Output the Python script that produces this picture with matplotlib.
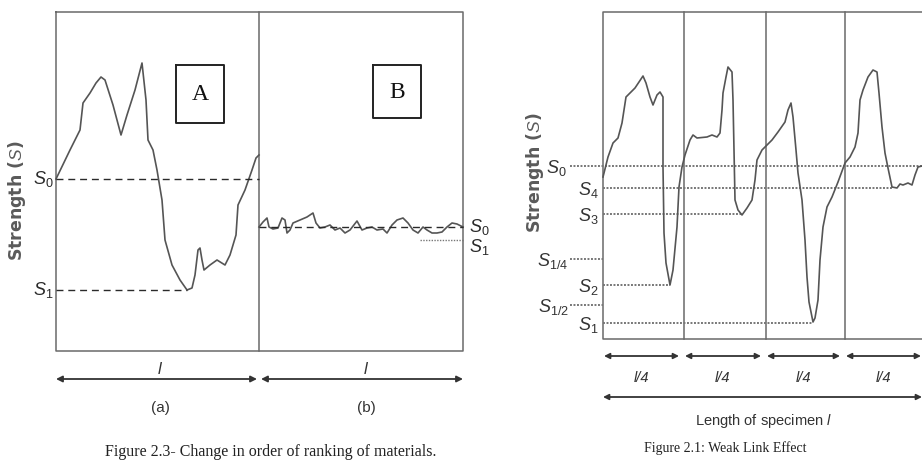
import matplotlib
matplotlib.use("Agg")
import matplotlib.pyplot as plt

plt.rcParams['mathtext.fontset'] = 'custom'
plt.rcParams['mathtext.rm'] = 'Liberation Sans'
plt.rcParams['mathtext.it'] = 'Liberation Sans:italic'
plt.rcParams['mathtext.bf'] = 'Liberation Sans:bold'

# ---------------- data (figure 2.3) ----------------
curve_a_x = [56, 70, 80, 83, 90, 96, 101, 105, 113, 121, 127, 135, 142, 146, 148, 153, 157,
             162, 165, 172, 180, 187, 192, 195, 198, 200, 202, 204, 210, 217, 225, 230, 236,
             238, 245, 252, 256, 259]
curve_a_s = [179, 150, 130, 103, 93, 83, 77, 80, 105, 135, 115, 90, 63, 100, 140, 150, 170,
             200, 240, 265, 280, 290, 288, 275, 250, 248, 260, 270, 265, 260, 265, 255, 235,
             205, 190, 170, 158, 155]
curve_b_x = [259, 263, 267, 269, 273, 278, 282, 285, 287, 290, 293, 300, 307, 313, 316, 320,
             325, 330, 335, 340, 345, 350, 357, 362, 367, 372, 377, 383, 387, 392, 397, 403,
             408, 413, 418, 423, 427, 432, 437, 442, 447, 452, 457, 463]
curve_b_s = [227, 222, 218, 227, 229, 228, 218, 220, 233, 230, 223, 220, 217, 213, 223, 228,
             227, 225, 230, 228, 233, 230, 221, 230, 228, 227, 230, 229, 233, 225, 220, 218,
             223, 230, 233, 227, 230, 233, 233, 232, 227, 223, 224, 227]
a_levels = {"S0": 179, "S1": 290}
b_levels = {"S0": 227, "S1": 240}

# ---------------- data (figure 2.1) ----------------
weak_x = [603, 608, 613, 618, 622, 626, 630, 635, 639, 643, 646, 650, 653, 657, 660, 663, 663,
          664, 666, 670, 673, 677, 679, 682, 685, 690, 693, 697, 707, 712, 717, 720, 722, 723,
          726, 728, 732, 733, 734, 735, 738, 742, 747, 752, 755, 757, 762, 767, 772, 778, 785,
          788, 791, 793, 796, 798, 802, 805, 807, 809, 813, 815, 818, 820, 823, 827, 832, 838,
          845, 850, 855, 858, 860, 863, 868, 873, 877, 879, 882, 885, 888, 892, 897, 900, 903,
          908, 912, 915, 918, 922]
weak_s = [177, 157, 143, 138, 123, 97, 93, 88, 82, 76, 83, 97, 105, 95, 92, 97, 167,
          233, 263, 285, 270, 227, 187, 167, 155, 140, 135, 138, 137, 135, 137, 133, 110, 93,
          77, 67, 72, 100, 150, 200, 210, 215, 208, 200, 180, 160, 150, 145, 140, 132, 122,
          110, 103, 117, 150, 173, 200, 240, 277, 302, 322, 318, 300, 260, 227, 207, 197, 182,
          163, 157, 147, 133, 100, 90, 77, 70, 72, 93, 127, 153, 168, 187, 188, 184, 185,
          183, 185, 175, 167, 166]
weak_levels = ["S0", "S4", "S3", "S1/4", "S2", "S1/2", "S1"]
weak_level_s = [166, 188, 214, 259, 285, 305, 323]
weak_level_end = [922, 893, 742, 603, 670, 603, 813]
weak_level_start = [570, 603, 603, 570, 603, 570, 603]
weak_label_x = [556, 588, 588, 553, 588, 553, 588]
weak_labels = [r"$\mathit{S}_0$", r"$\mathit{S}_4$", r"$\mathit{S}_3$", r"$\mathit{S}_{1/4}$",
               r"$\mathit{S}_2$", r"$\mathit{S}_{1/2}$", r"$\mathit{S}_1$"]
quarter_bounds = [603, 684, 766, 845, 926]

LINE = '#555555'
DARK = '#2a2a2a'

fig = plt.figure(figsize=(9.22, 4.66), dpi=100)
ax = fig.add_axes([0, 0, 1, 1])
ax.set_xlim(0, 922)
ax.set_ylim(466, 0)
ax.axis('off')

# ---------- Figure 2.3 ----------
ax.plot([56, 463, 463, 56, 56], [12, 12, 351, 351, 12], color='#6a6a6a', lw=1.1)
ax.plot([259, 259], [12, 351], color='#6a6a6a', lw=1.1)
ax.plot(curve_a_x, curve_a_s, color=LINE, lw=1.2)
ax.plot(curve_b_x, curve_b_s, color=LINE, lw=1.2)
ax.plot([56, 259], [a_levels["S0"]] * 2, color=DARK, lw=1.0, dashes=(5, 3.5))
ax.plot([56, 187], [a_levels["S1"]] * 2, color=DARK, lw=1.0, dashes=(5, 3.5))
ax.plot([259, 463], [b_levels["S0"]] * 2, color=DARK, lw=1.0, dashes=(5, 3.5))
ax.plot([420, 463], [b_levels["S1"]] * 2, color='#777777', lw=1.0, dashes=(1, 1))

for lx, ly, lab in [(43, 179, r"$\mathit{S}_0$"), (43, 290, r"$\mathit{S}_1$"),
                    (479, 227, r"$\mathit{S}_0$"), (479, 247, r"$\mathit{S}_1$")]:
    ax.text(lx, ly, lab, fontsize=13, ha='center', va='center', color=DARK)

ax.text(17, 201, r"Strength ($\mathit{S}$)", rotation=90, fontsize=12.5, fontweight='bold',
        family='DejaVu Sans', ha='center', va='center', color='#5a5a5a')

for (x0, y0, x1, y1, t) in [(176, 65, 224, 123, 'A'), (373, 65, 421, 118, 'B')]:
    ax.plot([x0, x1, x1, x0, x0], [y0, y0, y1, y1, y0], color='#222222', lw=1.4)
    ax.text((x0 + x1) / 2, (y0 + y1) / 2 + 1, t, fontsize=17, family='Liberation Serif',
            ha='center', va='center', color='#111111')

arrow_kw = dict(arrowstyle='<|-|>', lw=1.3, color='#333333', mutation_scale=9,
                shrinkA=0, shrinkB=0)
ax.annotate('', xy=(257, 379), xytext=(56, 379), arrowprops=arrow_kw)
ax.annotate('', xy=(463, 379), xytext=(261, 379), arrowprops=arrow_kw)
ax.text(160, 370, 'l', fontsize=12, style='italic', family='Liberation Sans',
        ha='center', va='center', color='#333333')
ax.text(366, 370, 'l', fontsize=12, style='italic', family='Liberation Sans',
        ha='center', va='center', color='#333333')
ax.text(160, 408, '(a)', fontsize=11, family='Liberation Sans', ha='center', va='center',
        color='#333333')
ax.text(366, 408, '(b)', fontsize=11, family='Liberation Sans', ha='center', va='center',
        color='#333333')
ax.text(271, 452, 'Figure 2.3- Change in order of ranking of materials.', fontsize=11.5,
        family='Liberation Serif', ha='center', va='center', color='#222222')

# ---------- Figure 2.1 ----------
ax.plot([922, 603, 603, 922], [12, 12, 339, 339], color='#6a6a6a', lw=1.1)
for bx in quarter_bounds[1:-1]:
    ax.plot([bx, bx], [12, 339], color='#6a6a6a', lw=1.1)
for s, x0, x1 in zip(weak_level_s, weak_level_start, weak_level_end):
    ax.plot([x0, x1], [s, s], color='#777777', lw=1.4, dashes=(1, 0.8))
ax.plot(weak_x, weak_s, color=LINE, lw=1.2)
for lx, s, lab in zip(weak_label_x, weak_level_s, weak_labels):
    ax.text(lx, s + 2, lab, fontsize=13, ha='center', va='center', color='#333333')

ax.text(535, 173, r"Strength ($\mathit{S}$)", rotation=90, fontsize=12.5, fontweight='bold',
        family='DejaVu Sans', ha='center', va='center', color='#5a5a5a')

for i in range(4):
    ax.annotate('', xy=(quarter_bounds[i + 1] - 5, 356), xytext=(quarter_bounds[i] + 1, 356),
                arrowprops=dict(arrowstyle='<|-|>', lw=1.3, color='#333333',
                                mutation_scale=8, shrinkA=0, shrinkB=0))
    ax.text((quarter_bounds[i] + quarter_bounds[i + 1]) / 2 - 2, 378, 'l/4', fontsize=10.5,
            style='italic', family='Liberation Sans', ha='center', va='center',
            color='#333333')
ax.annotate('', xy=(922, 397), xytext=(603, 397),
            arrowprops=dict(arrowstyle='<|-|>', lw=1.3, color='#333333', mutation_scale=8,
                            shrinkA=0, shrinkB=0))
ax.text(764, 421, r"Length of specimen $\mathit{l}$", fontsize=10.5, family='Liberation Sans',
        ha='center', va='center', color='#333333')
ax.text(725, 448, 'Figure 2.1: Weak Link Effect', fontsize=10, family='Liberation Serif',
        ha='center', va='center', color='#222222')

fig.savefig('out.png', dpi=100, facecolor='white')
